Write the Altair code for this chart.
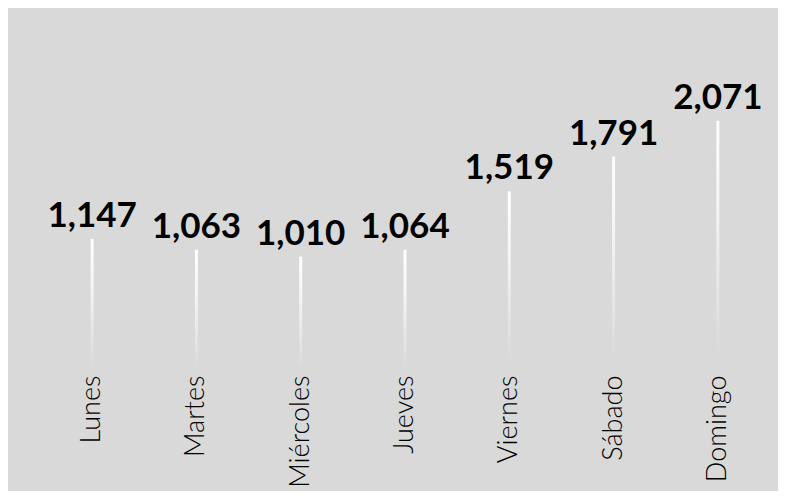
import altair as alt
import pandas as pd

dias = ["Lunes", "Martes", "Miércoles", "Jueves", "Viernes", "Sábado", "Domingo"]
valores = [1147, 1063, 1010, 1064, 1519, 1791, 2071]

df = pd.DataFrame({"dia": dias, "valor": valores})

BG = "#d9d9d9"

x = alt.X(
    "dia:N",
    sort=dias,
    title=None,
    scale=alt.Scale(paddingInner=0, paddingOuter=0),
    axis=alt.Axis(
        labelAngle=-90,
        labelFont="Lato",
        labelFontWeight=300,
        labelFontSize=27,
        labelColor="#000000",
        labelPadding=0,
        offset=-11,
        ticks=False,
        domain=False,
        grid=False,
        zindex=1,
    ),
)
y = alt.Y("valor:Q", scale=alt.Scale(domain=[0, 2950]), axis=None)

bars = alt.Chart(df).mark_bar(
    size=3,
    color=alt.Gradient(
        gradient="linear",
        stops=[
            alt.GradientStop(color="#ffffff", offset=0),
            alt.GradientStop(color="#f6f6f6", offset=0.3),
            alt.GradientStop(color=BG, offset=0.88),
        ],
        x1=0, x2=0, y1=0, y2=1,
    ),
).encode(x=x, y=y)

labels = alt.Chart(df).mark_text(
    font="Lato",
    fontWeight="bold",
    fontSize=35,
    color="#000000",
    baseline="alphabetic",
    dy=-12,
).encode(x=x, y=y, text=alt.Text("valor:Q", format=","))

chart = (
    alt.layer(bars, labels)
    .properties(
        width=730,
        height=378,
        background=BG,
        padding={"left": 32, "top": 0, "right": 8, "bottom": 105},
        autosize=alt.AutoSizeParams(type="none"),
    )
    .configure_view(stroke=None)
)

chart.save("out.html", embed_options={"renderer": "svg", "actions": False})
